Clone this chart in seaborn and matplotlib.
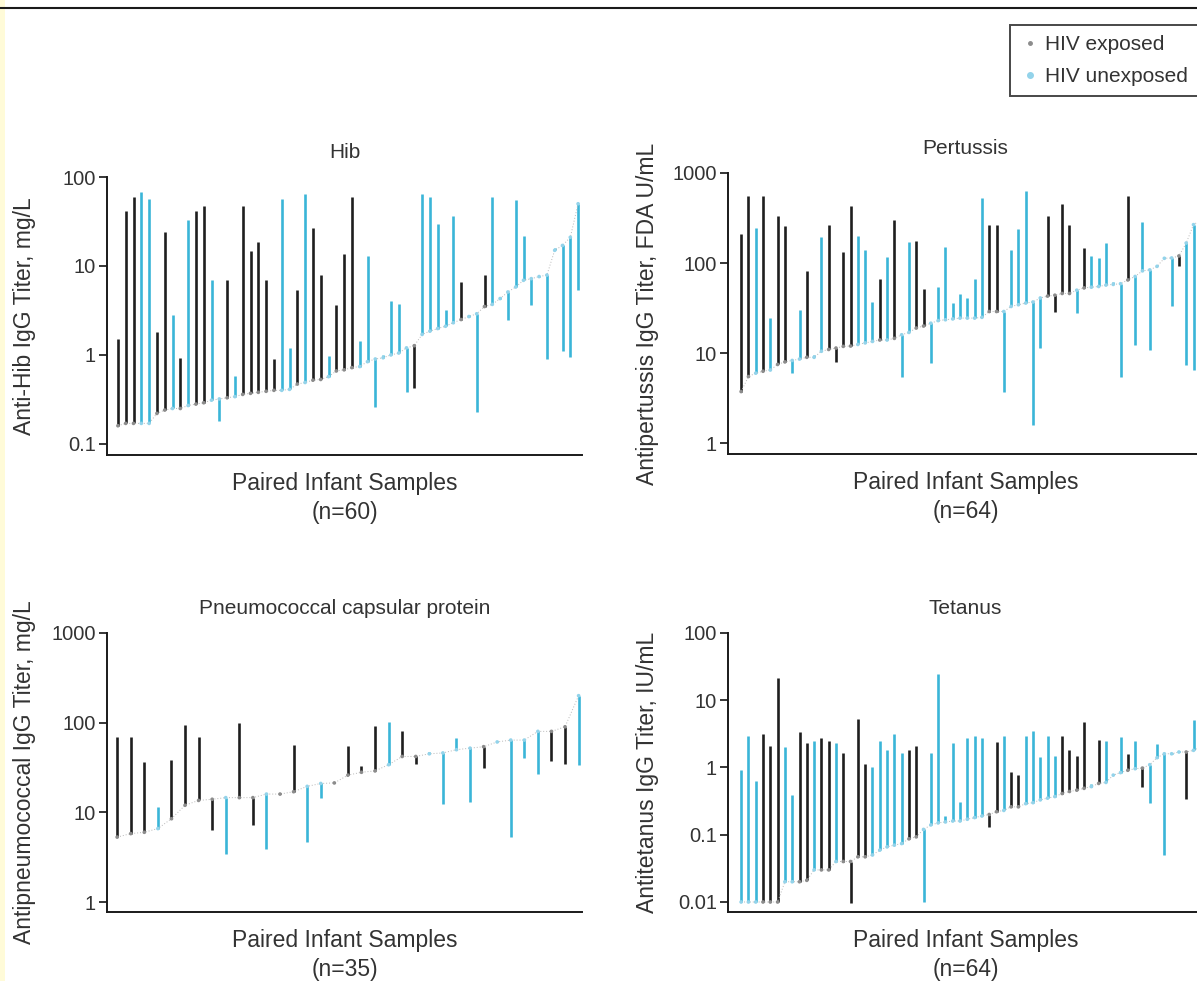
import seaborn as sns
import matplotlib.pyplot as plt
import numpy as np
import pandas as pd
from matplotlib.lines import Line2D
from matplotlib.patches import Rectangle
from matplotlib.ticker import NullLocator

# Hib (n=60): sorted first sample, paired second sample, group (E = HIV exposed, U = unexposed)
hib_base = [0.16, 0.17, 0.17, 0.17, 0.17, 0.22, 0.24, 0.25, 0.25, 0.27,
            0.28, 0.29, 0.31, 0.32, 0.33, 0.34, 0.36, 0.37, 0.38, 0.39,
            0.40, 0.40, 0.41, 0.47, 0.49, 0.52, 0.53, 0.57, 0.66, 0.68,
            0.72, 0.74, 0.84, 0.90, 0.93, 1.0, 1.05, 1.2, 1.27, 1.7,
            1.85, 1.98, 2.1, 2.3, 2.5, 2.7, 2.9, 3.5, 3.7, 4.3,
            5.1, 5.8, 6.9, 7.2, 7.6, 7.9, 15, 17, 21, 50]
hib_other = [1.5, 42, 60, 68, 57, 1.8, 24, 2.8, 0.92, 33,
             42, 47, 7.0, 0.18, 7.0, 0.58, 47, 14.7, 18.6, 7.0,
             0.89, 57, 1.2, 5.4, 64, 27, 8, 0.97, 3.6, 13.8,
             60, 1.43, 12.9, 0.26, 1.0, 4.0, 3.7, 0.38, 0.43, 64,
             60, 30, 3.2, 36, 6.6, 2.8, 0.23, 8, 60, 4.5,
             2.45, 55, 21.5, 3.6, 7.8, 0.91, 16, 1.1, 0.94, 5.3]
hib_grp = list("EEEUUEEUEUEEUUEUEEEEEUUEUEEUEEEUUUUUUUEUUUUUEUUEUUUUUUUUUUUU")

# Pertussis (n=64)
per_base = [3.75, 5.5, 6.0, 6.3, 6.5, 7.5, 8.0, 8.3, 8.6, 9,
            9, 10.5, 11, 11.4, 11.9, 12, 12.5, 13, 13.5, 14,
            14, 14.6, 16, 17, 19, 20, 21.5, 23, 23.5, 24,
            24.5, 24.5, 24.5, 25, 29, 29, 29, 33, 34.5, 36,
            37, 41, 43, 44, 46, 46, 50, 53, 54, 55,
            57, 58, 59, 65, 71, 82, 84, 92, 113, 114,
            120, 167, 267, 300]
per_other = [212, 550, 245, 550, 24.5, 336, 255, 6, 30, 81,
             9.6, 195, 267, 8, 132, 425, 201, 141, 37, 66,
             118, 300, 5.5, 170, 174, 51, 7.7, 54, 150, 36,
             45, 41, 66, 527, 267, 267, 3.7, 138, 239, 625,
             1.6, 11.4, 336, 29, 456, 267, 28, 147, 120, 114,
             167, 62, 5.5, 550, 12.4, 283, 10.9, 95, 118, 33,
             92, 7.4, 6.5, 150]
per_grp = list("EEUEUEEUUEUUEEEEUUUEUEUUEEUUUUUUUUEEUUUUUUEEEEUEUUUUUEUUUUUUEUUU")

# Pneumococcal capsular protein (n=35)
pn_base = [5.3, 5.8, 6.0, 6.6, 8.5, 12, 13.6, 14, 14.6, 14.6,
           14.6, 16, 16, 17, 19.5, 21, 21.3, 26, 28, 29,
           34, 42, 42, 45, 46, 50, 52, 54, 61, 64,
           64, 80, 80, 90, 200]
pn_other = [70, 70, 36, 11.5, 38, 94, 70, 6.3, 3.4, 100,
            7.2, 3.9, 16.5, 57, 4.65, 14.3, 22, 55, 33, 92,
            103, 81, 35, 47, 12.5, 67, 13, 31, 63, 5.3,
            40, 27, 37, 35, 34]
pn_grp = list("EEEUEEEEUEEUEEUUEEEEUEEUUUUEUUUUEEU")

# Tetanus (n=64)
tet_base = [0.01, 0.01, 0.01, 0.01, 0.01, 0.01, 0.02, 0.02, 0.02, 0.021,
            0.03, 0.03, 0.03, 0.04, 0.04, 0.04, 0.047, 0.047, 0.05, 0.059,
            0.066, 0.07, 0.074, 0.087, 0.093, 0.12, 0.14, 0.15, 0.155, 0.16,
            0.16, 0.17, 0.18, 0.19, 0.2, 0.22, 0.23, 0.26, 0.26, 0.29,
            0.3, 0.33, 0.35, 0.37, 0.41, 0.44, 0.46, 0.49, 0.52, 0.58,
            0.6, 0.77, 0.84, 0.91, 0.96, 0.98, 1.1, 1.4, 1.6, 1.6,
            1.7, 1.7, 1.8, 2.0]
tet_other = [0.91, 2.9, 0.63, 3.1, 2.1, 21.7, 2.0, 0.39, 3.4, 2.3,
             2.5, 2.7, 2.5, 2.3, 1.65, 0.0097, 5.2, 1.12, 1.0, 2.5,
             1.85, 3.1, 1.65, 1.85, 2.1, 0.01, 1.65, 24.9, 0.19, 2.3,
             0.31, 2.7, 2.9, 2.7, 0.13, 2.4, 2.9, 0.86, 0.78, 2.9,
             3.5, 1.44, 2.9, 1.5, 2.9, 1.8, 1.5, 4.8, 0.56, 2.6,
             2.5, 0.8, 2.8, 1.6, 2.5, 0.52, 0.3, 2.2, 0.05, 1.65,
             1.75, 0.34, 5.0, 2.5]
tet_grp = list("UUUEEEUUEEUEEUEEEEUUUUUEEUUUUUUUUUEEUEEUUUUUEEEEUEUUUEUEUUUUUEUU")

group_names = {'E': 'HIV exposed', 'U': 'HIV unexposed'}
line_pal = {'HIV exposed': '#1e1e1e', 'HIV unexposed': '#3ab5d8'}
dot_pal = {'HIV exposed': '#8c8c8c', 'HIV unexposed': '#93d3ea'}

sns.set_style('ticks')
plt.rcParams['font.family'] = ['Liberation Sans', 'DejaVu Sans']
plt.rcParams['text.color'] = '#333333'
plt.rcParams['axes.labelcolor'] = '#333333'

W, H = 1197, 981
fig = plt.figure(figsize=(W / 100, H / 100), dpi=100)

# pale strip on the left edge, behind everything
fig.add_artist(Rectangle((0, 0), 5 / W, 1, color='#fffbd8', lw=0, zorder=-5))


def panel(px, base, other, grp, title, ylabel, n, ylim, yticks, ylabels, pad, label_x):
    left, top, right, bottom = px
    ax = fig.add_axes([left / W, 1 - bottom / H, (right - left) / W, (bottom - top) / H])
    ax.patch.set_alpha(0)
    df = pd.DataFrame({'x': np.arange(len(base)), 'base': base, 'other': other,
                       'group': [group_names[g] for g in grp]})
    ax.set_yscale('log')
    for g, d in df.groupby('group'):
        ax.vlines(d['x'], d['base'], d['other'], colors=line_pal[g], lw=1.9, zorder=2)
    ax.plot(df['x'], df['base'], ls=(0, (1, 2)), color='#b8b8b8', lw=0.7, zorder=3)
    sns.scatterplot(data=df, x='x', y='base', hue='group', palette=dot_pal, s=7,
                    linewidth=0, legend=False, ax=ax, zorder=4)
    ax.set_xlim(-pad[0], len(base) - 1 + pad[1])
    ax.set_ylim(*ylim)
    ax.set_yticks(yticks)
    ax.set_yticklabels(ylabels)
    ax.yaxis.set_minor_locator(NullLocator())
    ax.set_xticks([])
    ax.tick_params(axis='y', length=6, width=1.3, labelsize=14.5, labelcolor='#333333', pad=2)
    for s in ['left', 'bottom']:
        ax.spines[s].set_linewidth(1.4)
        ax.spines[s].set_color('#1a1a1a')
    sns.despine(ax=ax)
    ax.set_title(title, fontsize=15, pad=14)
    ax.set_xlabel('Paired Infant Samples\n(n=%d)' % n, fontsize=16.5, labelpad=12, linespacing=1.35)
    ax.set_ylabel(ylabel, fontsize=16.5)
    ax.yaxis.set_label_coords((label_x - left) / (right - left), 0.5)
    return ax


panel((107, 177, 582, 455), hib_base, hib_other, hib_grp, 'Hib',
      'Anti-Hib IgG Titer, mg/L', 60, (0.075, 100),
      [0.1, 1, 10, 100], ['0.1', '1', '10', '100'], (1.4, 0.5), 36)
panel((728, 173, 1203, 454), per_base, per_other, per_grp, 'Pertussis',
      'Antipertussis IgG Titer, FDA U/mL', 64, (0.76, 1000),
      [1, 10, 100, 1000], ['1', '10', '100', '1000'], (1.8, 0.3), 659)
panel((107, 633, 582, 912), pn_base, pn_other, pn_grp, 'Pneumococcal capsular protein',
      'Antipneumococcal IgG Titer, mg/L', 35, (0.775, 1000),
      [1, 10, 100, 1000], ['1', '10', '100', '1000'], (0.75, 0.25), 36)
panel((728, 633, 1203, 912), tet_base, tet_other, tet_grp, 'Tetanus',
      'Antitetanus IgG Titer, IU/mL', 64, (0.0071, 100),
      [0.01, 0.1, 1, 10, 100], ['0.01', '0.1', '1', '10', '100'], (1.8, 0.3), 659)

handles = [Line2D([], [], ls='none', marker='o', ms=2.5, color=dot_pal['HIV exposed']),
           Line2D([], [], ls='none', marker='o', ms=4, color=dot_pal['HIV unexposed'])]
leg = fig.legend(handles, ['HIV exposed', 'HIV unexposed'], loc='upper left',
                 bbox_to_anchor=(1010 / W, 1 - 100 / H, 280 / W, 75 / H), mode='expand',
                 fontsize=15, frameon=True, fancybox=False, edgecolor='#1a1a1a',
                 handlelength=0.9, handletextpad=0.3, borderpad=0.5, labelspacing=0.6,
                 borderaxespad=0)
leg.get_frame().set_linewidth(1.4)

# page rule at the top
fig.add_artist(Line2D([0, 1], [1 - 8 / H, 1 - 8 / H], color='#1a1a1a', lw=1.5))

fig.savefig('out.png', dpi=100)
